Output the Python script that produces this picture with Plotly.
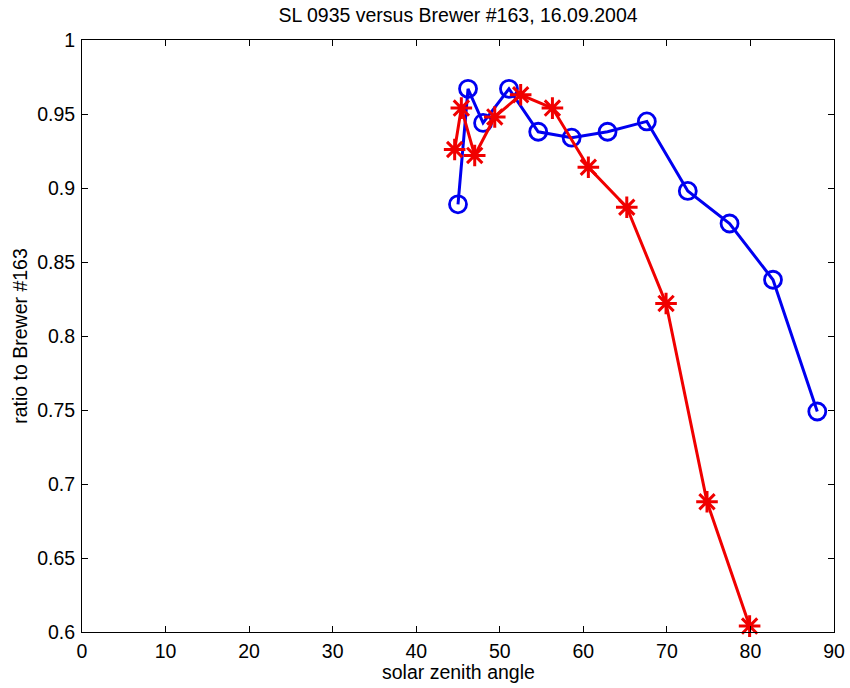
import plotly.graph_objects as go

title = "SL 0935 versus Brewer #163, 16.09.2004"
x_label = "solar zenith angle"
y_label = "ratio to Brewer #163"

blue_sza = [45.0, 46.2, 48.0, 51.1, 54.6, 58.6, 62.9, 67.6, 72.5, 77.5, 82.7, 88.0]
blue_ratio = [0.889, 0.967, 0.944, 0.967, 0.938, 0.934, 0.938, 0.945, 0.898, 0.876, 0.838, 0.749]

red_sza = [44.6, 45.4, 47.0, 49.4, 52.5, 56.3, 60.6, 65.2, 69.9, 74.8, 79.9]
red_ratio = [0.926, 0.954, 0.922, 0.948, 0.963, 0.954, 0.914, 0.887, 0.822, 0.688, 0.604]

x_ticks = [0, 10, 20, 30, 40, 50, 60, 70, 80, 90]
y_ticks = [0.6, 0.65, 0.7, 0.75, 0.8, 0.85, 0.9, 0.95, 1.0]
y_tick_text = ["0.6", "0.65", "0.7", "0.75", "0.8", "0.85", "0.9", "0.95", "1"]

FONT = "Liberation Sans, Arial, sans-serif"
FS = 19.5

fig = go.Figure()
fig.add_trace(go.Scatter(
    x=blue_sza, y=blue_ratio, mode="lines+markers",
    line=dict(color="#0000f0", width=3),
    marker=dict(symbol="circle-open", size=17, color="#0000f0", line=dict(width=2.8)),
    cliponaxis=False, showlegend=False))
fig.add_trace(go.Scatter(
    x=red_sza, y=red_ratio, mode="lines+markers",
    line=dict(color="#f00000", width=3),
    marker=dict(symbol="asterisk-open", size=18, color="#f00000", line=dict(width=3, color="#f00000")),
    cliponaxis=False, showlegend=False))

axis_common = dict(
    showgrid=False, zeroline=False, showline=True, linecolor="black", linewidth=1,
    mirror="ticks", ticks="inside", ticklen=6, tickcolor="black", automargin=False,
    tickfont=dict(family=FONT, size=FS, color="black"),
)

fig.update_layout(
    width=850, height=688,
    margin=dict(l=82, r=16, t=40, b=56),
    paper_bgcolor="white", plot_bgcolor="white",
    title=dict(text=title, xref="paper", x=0.5, xanchor="center", y=1 - 15 / 688, yanchor="middle",
               font=dict(family=FONT, size=FS, color="black")),
    xaxis=dict(range=[0, 90], tickvals=x_ticks, ticklabelstandoff=2, **axis_common),
    yaxis=dict(range=[0.6, 1.0], tickvals=y_ticks, ticktext=y_tick_text, ticklabelstandoff=2,
               title=dict(text=y_label, standoff=4, font=dict(family=FONT, size=FS, color="black")),
               **axis_common),
    annotations=[dict(text=x_label, xref="paper", yref="paper", x=0.5, y=-40 / 592,
                      xanchor="center", yanchor="middle", showarrow=False,
                      font=dict(family=FONT, size=FS, color="black"))],
)

fig.write_html("out.html")
